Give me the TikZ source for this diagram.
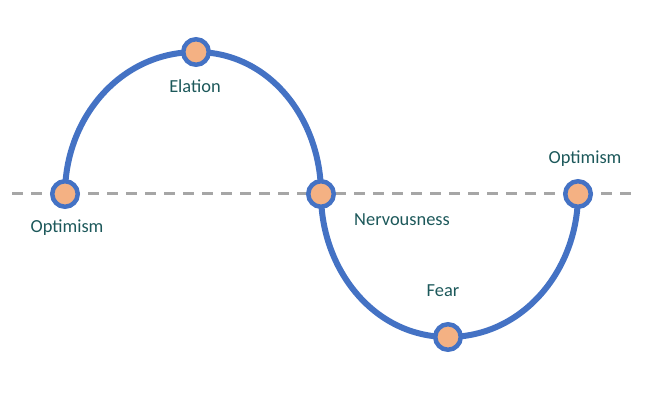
\documentclass[tikz,border=0pt]{standalone}
\usepackage{fontspec}
\setmainfont{Carlito}
\usetikzlibrary{backgrounds}
\definecolor{curveblue}{HTML}{4472C4}
\definecolor{dotfill}{HTML}{F4B183}
\definecolor{labelteal}{RGB}{28,88,90}
\definecolor{dashgray}{HTML}{A6A6A6}
\tikzset{
  dot/.style={circle, draw=curveblue, fill=dotfill, line width=4.5pt, minimum size=25.5pt, inner sep=0pt},
  lbl/.style={text=labelteal, anchor=base, inner sep=0pt, font=\fontsize{18.4}{22}\selectfont},
  wave/.style={draw=curveblue, line width=6pt, looseness=1},
  axis/.style={draw=dashgray, line width=3pt, dash pattern=on 11pt off 8pt}
}
\begin{document}
\begin{tikzpicture}[x=1pt,y=1pt]
\useasboundingbox (0,0) rectangle (645,402);
\node[dot] (o1) at (65,208) {};
\node[dot] (el) at (196,350) {};
\node[dot] (nv) at (321,208) {};
\node[dot] (fe) at (448,65) {};
\node[dot] (o2) at (578,208) {};
\coordinate (dl) at (12,208);
\coordinate (dr) at (635,208);
\begin{pgfonlayer}{background}
\draw[axis] (dl) -- (dr);
\draw[wave] (o1.center) to[out=90,in=180] (el.center) to[out=0,in=90] (nv.center)
  to[out=-90,in=180] (fe.center) to[out=0,in=-90] (o2.center);
\end{pgfonlayer}
\node[lbl] (t1) at (67,169) {Optimism};
\node[lbl] (t2) at (195,309) {Elation};
\node[lbl] (t3) at (402,176) {Nervousness};
\node[lbl] (t4) at (443,106) {Fear};
\node[lbl] (t5) at (585,238) {Optimism};
\end{tikzpicture}
\end{document}
